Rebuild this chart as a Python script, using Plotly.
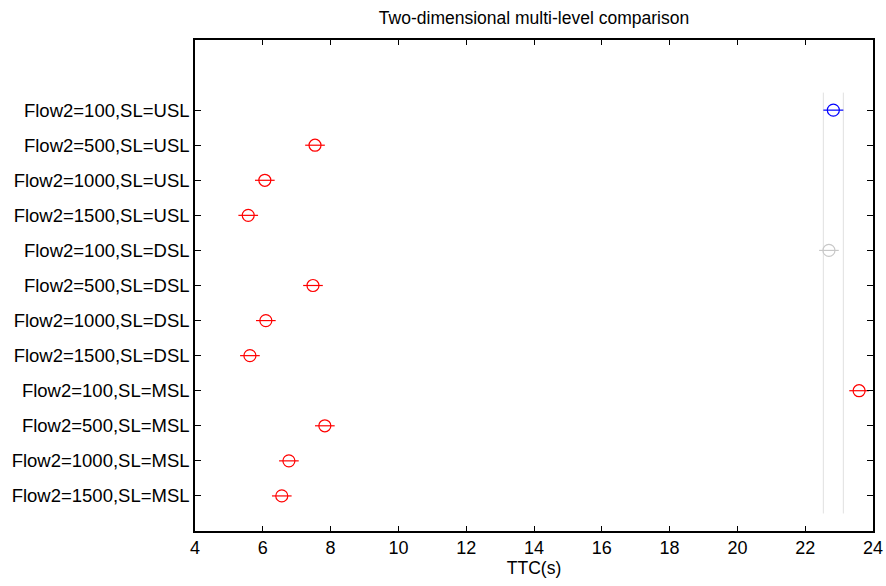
import plotly.graph_objects as go

# Group labels, top to bottom
groups = [
    "Flow2=100,SL=USL", "Flow2=500,SL=USL", "Flow2=1000,SL=USL", "Flow2=1500,SL=USL",
    "Flow2=100,SL=DSL", "Flow2=500,SL=DSL", "Flow2=1000,SL=DSL", "Flow2=1500,SL=DSL",
    "Flow2=100,SL=MSL", "Flow2=500,SL=MSL", "Flow2=1000,SL=MSL", "Flow2=1500,SL=MSL",
]
# Estimated group means of TTC (s)
means = [22.83, 7.54, 6.06, 5.57, 22.70, 7.48, 6.09, 5.62, 23.59, 7.83, 6.77, 6.56]
# Comparison interval half-widths
half_widths = [0.295, 0.29, 0.29, 0.29, 0.29, 0.29, 0.29, 0.29, 0.29, 0.29, 0.29, 0.29]
selected = 0  # index of the highlighted group

n = len(groups)
ypos = [n - i for i in range(n)]  # first group at the top
sel_lo = means[selected] - half_widths[selected]
sel_hi = means[selected] + half_widths[selected]

colors = []
for i, (m, h) in enumerate(zip(means, half_widths)):
    if i == selected:
        colors.append("#0000ff")
    elif m + h < sel_lo or m - h > sel_hi:
        colors.append("#ff0000")
    else:
        colors.append("#c8c8c8")

fig = go.Figure()

# Reference lines bounding the selected group's interval
for xv in (sel_lo, sel_hi):
    fig.add_trace(go.Scatter(
        x=[xv, xv], y=[0.5, n + 0.5], mode="lines",
        line=dict(color="#e0e0e0", width=1), hoverinfo="skip", showlegend=False,
    ))

for i in range(n):
    fig.add_trace(go.Scatter(
        x=[means[i]], y=[ypos[i]], mode="markers",
        marker=dict(symbol="circle-open", size=12, color=colors[i], line=dict(width=1.2)),
        error_x=dict(type="data", array=[half_widths[i]], color=colors[i],
                     thickness=1.2, width=0),
        showlegend=False,
    ))

font_family = "Liberation Sans, Arial, sans-serif"
fig.update_layout(
    width=886, height=586,
    margin=dict(l=195, r=13, t=40, b=55),
    paper_bgcolor="white", plot_bgcolor="white",
    font=dict(family=font_family, size=18, color="black"),
    title=dict(text="Two-dimensional multi-level comparison", x=0.5, xref="paper",
               xanchor="center", y=1 - 18 / 586, yanchor="middle", font=dict(size=17.5)),
    xaxis=dict(
        range=[4, 24], tickvals=list(range(4, 25, 2)),
        ticks="inside", ticklen=5, tickcolor="black", mirror="ticks",
        showline=True, linecolor="black", linewidth=1.5, showgrid=False, zeroline=False,
        title=dict(text="TTC(s)", standoff=4, font=dict(size=17.5)),
        tickfont=dict(size=18), automargin=False,
    ),
    yaxis=dict(
        range=[0, n + 2], tickvals=ypos, ticktext=groups,
        ticks="inside", ticklen=6, tickcolor="black", mirror="ticks",
        showline=True, linecolor="black", linewidth=1.5, showgrid=False, zeroline=False,
        tickfont=dict(size=18.5), automargin=False,
    ),
)

fig.write_html("out.html")
